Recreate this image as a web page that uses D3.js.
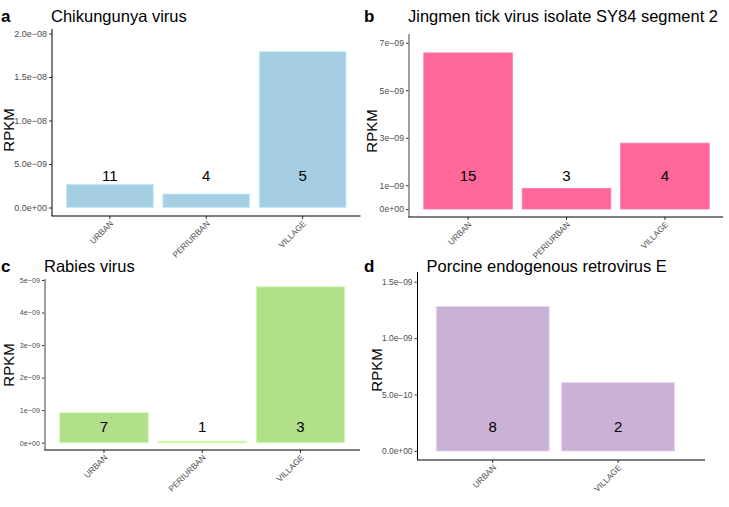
<!DOCTYPE html>
<html>
<head>
<meta charset="utf-8">
<script src="https://cdn.jsdelivr.net/npm/d3@7"></script>
<style>
  body { margin: 0; background: #fff; }
  text { font-family: "Liberation Sans", Arial, Helvetica, sans-serif; }
</style>
</head>
<body>
<div id="chart"></div>
<script>
// panel data
const titles = ['Chikungunya virus', 'Jingmen tick virus isolate SY84 segment 2', 'Rabies virus', 'Porcine endogenous retrovirus E']
const letters = ['a', 'b', 'c', 'd']
const categories = [
    ['URBAN', 'PERIURBAN', 'VILLAGE'],
    ['URBAN', 'PERIURBAN', 'VILLAGE'],
    ['URBAN', 'PERIURBAN', 'VILLAGE'],
    ['URBAN', 'VILLAGE']
]
const rpkm = [
    [2.67e-9, 1.55e-9, 1.79e-8],
    [6.57e-9, 0.87e-9, 2.77e-9],
    [0.92e-9, 0.04e-9, 4.79e-9],
    [1.28e-9, 0.605e-9]
]
const counts = [
    [11, 4, 5],
    [15, 3, 4],
    [7, 1, 3],
    [8, 2]
]
// y position (data units) where count labels sit
const labelY = [3.66e-9, 1.4e-9, 0.49e-9, 0.215e-9]
const tickValues = [
    [0, 5e-9, 1e-8, 1.5e-8, 2e-8],
    [0, 1e-9, 3e-9, 5e-9, 7e-9],
    [0, 1e-9, 2e-9, 3e-9, 4e-9, 5e-9],
    [0, 5e-10, 1e-9, 1.5e-9]
]
const tickLabels = [
    ['0.0e+00', '5.0e\u221209', '1.0e\u221208', '1.5e\u221208', '2.0e\u221208'],
    ['0e+00', '1e\u221209', '3e\u221209', '5e\u221209', '7e\u221209'],
    ['0e+00', '1e\u221209', '2e\u221209', '3e\u221209', '4e\u221209', '5e\u221209'],
    ['0.0e+00', '5.0e\u221210', '1.0e\u221209', '1.5e\u221209']
]
const colors = ['#a6cee3', '#ff6699', '#b2df8a', '#cab2d6']

// layout of each panel (pixels)
const panels = [
    { left: 52, right: 360.5, bandRight: 360.5, top: 29, bottom: 216, y0: 207.5, yTop: 33.5, yMax: 2e-8, tick: 9, axis: '#000', axisW: 1, titleX: 51, letterX: 1, titleY: 22, rpkmX: 13.5, rpkmY: 130 },
    { left: 409, right: 723, bandRight: 724, top: 34, bottom: 217, y0: 209, yTop: 42.7, yMax: 7e-9, tick: 8.7, axis: '#7f7f7f', axisW: 1.5, titleX: 408, letterX: 364, titleY: 22, rpkmX: 377, rpkmY: 131 },
    { left: 45, right: 360, bandRight: 359.5, top: 279, bottom: 450, y0: 442.7, yTop: 280, yMax: 5e-9, tick: 7.2, axis: '#7f7f7f', axisW: 1.5, titleX: 44, letterX: 1, titleY: 272, rpkmX: 14, rpkmY: 365 },
    { left: 417.5, right: 705, bandRight: 693.3, top: 272, bottom: 460, y0: 451, yTop: 281.7, yMax: 1.5e-9, tick: 8.4, axis: '#000', axisW: 1, titleX: 426.5, letterX: 364, titleY: 272, rpkmX: 381.5, rpkmY: 370 }
]

const svg = d3.select('#chart')
    .append('svg')
    .attr('width', 729)
    .attr('height', 507)

panels.forEach((p, k) => {
    const g = svg.append('g')
    const cats = categories[k]

    // ggplot style discrete axis: 0.6 unit expansion, bar width 0.9
    const x = d3.scaleBand()
        .domain(cats)
        .range([p.left, p.bandRight])
        .paddingInner(0.1)
        .paddingOuter(0.15)

    const y = d3.scaleLinear()
        .domain([0, p.yMax])
        .range([p.y0, p.yTop])

    const data = cats.map((c, i) => ({ cat: c, value: rpkm[k][i], n: counts[k][i] }))

    g.selectAll('rect')
        .data(data)
        .join('rect')
        .attr('x', d => x(d.cat))
        .attr('width', x.bandwidth())
        .attr('y', d => y(d.value))
        .attr('height', d => y(0) - y(d.value))
        .attr('fill', colors[k])
        .attr('stroke', d3.color(colors[k]).brighter(0.4))
        .attr('stroke-width', 0.8)

    g.selectAll('text.count')
        .data(data)
        .join('text')
        .attr('class', 'count')
        .attr('x', d => x(d.cat) + x.bandwidth() / 2)
        .attr('y', y(labelY[k]))
        .attr('dy', '0.36em')
        .attr('text-anchor', 'middle')
        .attr('font-size', 15)
        .attr('fill', '#000')
        .text(d => d.n)

    // y axis
    const yAxis = d3.axisLeft(y)
        .tickValues(tickValues[k])
        .tickFormat((d, i) => tickLabels[k][i])
        .tickSize(3)
        .tickPadding(2)
    const ya = g.append('g')
        .attr('transform', `translate(${p.left},0)`)
        .call(yAxis)
    ya.select('.domain').remove()
    ya.selectAll('.tick line').attr('stroke', '#333')
    ya.selectAll('.tick text')
        .attr('fill', '#4d4d4d')
        .attr('font-size', p.tick)
        .style('font-family', '"Liberation Sans", Arial, sans-serif')

    // x axis
    const xAxis = d3.axisBottom(x).tickSize(3).tickPadding(2)
    const xa = g.append('g')
        .attr('transform', `translate(0,${p.bottom})`)
        .call(xAxis)
    xa.select('.domain').remove()
    xa.selectAll('.tick line').attr('stroke', '#333')
    xa.selectAll('.tick text')
        .attr('fill', '#4d4d4d')
        .attr('font-size', 8.3)
        .style('font-family', '"Liberation Sans", Arial, sans-serif')
        .attr('text-anchor', 'end')
        .attr('dy', null)
        .attr('y', 0)
        .attr('transform', 'translate(4,8) rotate(-45)')

    // axis lines
    g.append('line')
        .attr('x1', p.left).attr('x2', p.left)
        .attr('y1', p.top).attr('y2', p.bottom)
        .attr('stroke', p.axis)
        .attr('stroke-width', p.axisW)
    g.append('line')
        .attr('x1', p.left - p.axisW / 2).attr('x2', p.right)
        .attr('y1', p.bottom).attr('y2', p.bottom)
        .attr('stroke', '#000')
        .attr('stroke-width', 1)

    // axis title
    g.append('text')
        .attr('transform', `translate(${p.rpkmX},${p.rpkmY}) rotate(-90)`)
        .attr('text-anchor', 'middle')
        .attr('font-size', 15)
        .text('RPKM')

    // title and panel letter
    g.append('text')
        .attr('x', p.titleX)
        .attr('y', p.titleY)
        .attr('font-size', 16.5)
        .text(titles[k])
    g.append('text')
        .attr('x', p.letterX)
        .attr('y', p.titleY)
        .attr('font-size', 17)
        .attr('font-weight', 'bold')
        .text(letters[k])
})
</script>
</body>
</html>
